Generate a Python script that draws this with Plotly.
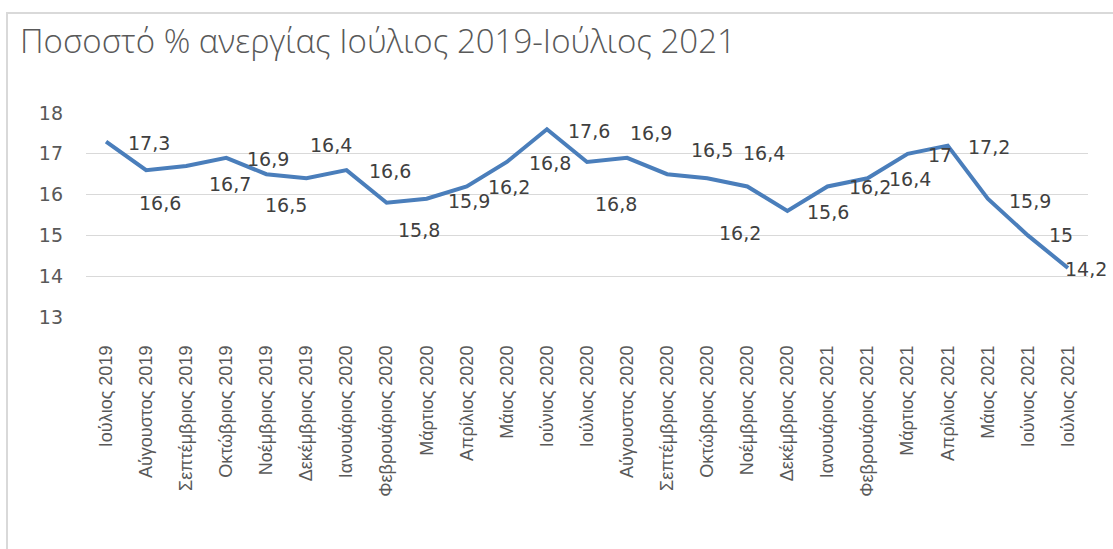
import plotly.graph_objects as go

# ---- data ----
months = [
    "Ιούλιος 2019", "Αύγουστος 2019", "Σεπτέμβριος 2019", "Οκτώβριος 2019",
    "Νοέμβριος 2019", "Δεκέμβριος 2019", "Ιανουάριος 2020", "Φεβρουάριος 2020",
    "Μάρτιος 2020", "Απρίλιος 2020", "Μάιος 2020", "Ιούνιος 2020",
    "Ιούλιος 2020", "Αύγουστος 2020", "Σεπτέμβριος 2020", "Οκτώβριος 2020",
    "Νοέμβριος 2020", "Δεκέμβριος 2020", "Ιανουάριος 2021", "Φεβρουάριος 2021",
    "Μάρτιος 2021", "Απρίλιος 2021", "Μάιος 2021", "Ιούνιος 2021", "Ιούλιος 2021",
]
unemployment = [17.3, 16.6, 16.7, 16.9, 16.5, 16.4, 16.6, 15.8, 15.9, 16.2,
                16.8, 17.6, 16.8, 16.9, 16.5, 16.4, 16.2, 15.6, 16.2, 16.4,
                17.0, 17.2, 15.9, 15.0, 14.2]
y_ticks = [13, 14, 15, 16, 17, 18]
title_text = "Ποσοστό % ανεργίας Ιούλιος 2019-Ιούλιος 2021"

# ---- label placement (pixel offsets of label centre from its point; styling only) ----
label_dx = [43, 14, 44, 42, 20, 25, 43, 32, 42, 42, 43, 42, 29, 24, 45, 57, -7,
            41, 43, 42, 32, 41, 42, 33, 18]
label_dy = [1, 33, 18, 1, 31, -33, 1, 27, 2, 1, 1, 2, 42, -25, -24, -25, 47,
            1, 1, 1, 1, 1, 2, 0, 1]

def fmt(v):
    s = ("%g" % v)
    return s.replace(".", ",")

W, H = 1113, 549
L, R, T, B = 86, 25, 113, 232
pw, ph = W - L - R, H - T - B

fig = go.Figure()
fig.add_trace(go.Scatter(
    x=list(range(len(months))), y=unemployment, mode="lines",
    line=dict(color="#4A7EBB", width=4),
    hoverinfo="skip", showlegend=False,
))

for i, v in enumerate(unemployment):
    fig.add_annotation(
        x=i, y=v, text=fmt(v), showarrow=False,
        xanchor="center", yanchor="middle",
        xshift=label_dx[i], yshift=-label_dy[i],
        font=dict(family="DejaVu Sans", size=19, color="#404040"),
    )

# chart frame
fig.add_shape(type="rect", xref="paper", yref="paper",
              x0=(7 - L) / pw, x1=(W + 20 - L) / pw,
              y0=-(H + 20 - T - ph) / ph, y1=(T + ph - 13) / ph,
              line=dict(color="#D9D9D9", width=2), fillcolor="rgba(0,0,0,0)",
              layer="below")

fig.update_layout(
    width=W, height=H,
    margin=dict(l=L, r=R, t=T, b=B, autoexpand=False),
    paper_bgcolor="white", plot_bgcolor="white",
    title=dict(text=title_text, x=20 / W, xanchor="left", xref="container",
               y=1 - 41 / H, yanchor="middle", yref="container",
               font=dict(family="Open Sans", size=33, color="#595959", weight=300)),
    xaxis=dict(
        range=[-0.5, len(months) - 0.5], automargin=False,
        tickmode="array", tickvals=list(range(len(months))), ticktext=months,
        tickangle=-90, showgrid=False, zeroline=False, showline=False,
        ticks="", ticklabelstandoff=24,
        tickfont=dict(family="Liberation Sans", size=18, color="#595959"),
    ),
    yaxis=dict(
        range=[13, 18], tickmode="array", tickvals=y_ticks, automargin=False,
        ticktext=[str(t) for t in y_ticks],
        showgrid=True, gridcolor="#D9D9D9", gridwidth=1.3,
        zeroline=False, showline=False, ticks="", ticklabelstandoff=22,
        tickfont=dict(family="DejaVu Sans", size=19, color="#595959"),
    ),
)

fig.write_html("out.html", config={"displayModeBar": False},
               post_script="document.body.style.margin='0';document.body.style.overflow='hidden';")
